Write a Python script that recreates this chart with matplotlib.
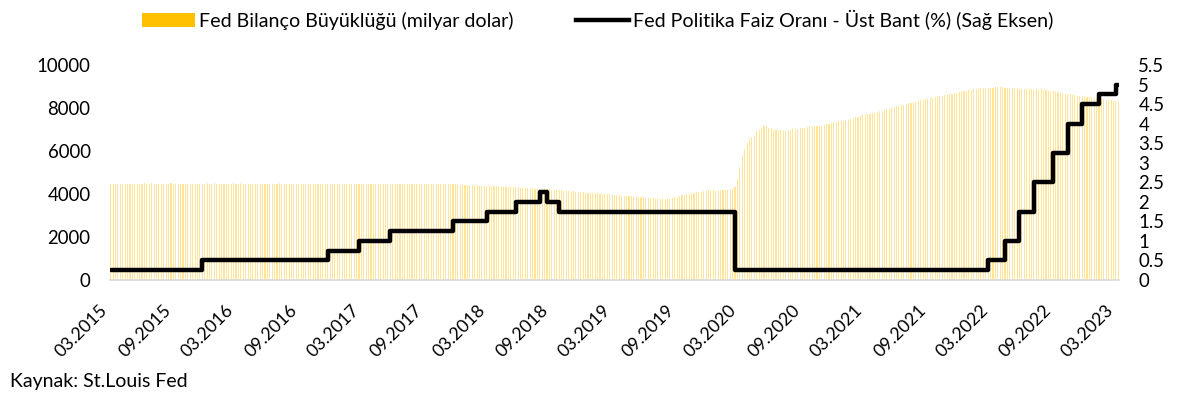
import pandas as pd, numpy as np
import matplotlib
matplotlib.use('Agg')
import matplotlib.pyplot as plt
import matplotlib.patches as mpatches
import matplotlib.lines as mlines

plt.rcParams['font.family'] = ['Lato', 'DejaVu Sans']

# Fed bilanco buyuklugu (milyar dolar), haftalik, 25.03.2015'ten itibaren
bal_2015 = [4478, 4470, 4481, 4474, 4484, 4477, 4472, 4486, 4479, 4483,
            4471, 4488, 4480, 4475, 4492, 4485, 4478, 4489, 4482, 4476,
            4487, 4481, 4474, 4485, 4479, 4490, 4483, 4477, 4486, 4480,
            4473, 4484, 4478, 4488, 4481, 4476, 4487, 4480, 4474, 4486,
            4492]
bal_2016 = [4486, 4479, 4491, 4482, 4476, 4488, 4480, 4473, 4485, 4478,
            4490, 4483, 4477, 4489, 4481, 4474, 4486, 4479, 4471, 4484,
            4478, 4488, 4480, 4475, 4487, 4481, 4472, 4485, 4479, 4490,
            4482, 4476, 4488, 4480, 4473, 4484, 4478, 4487, 4481, 4474,
            4486, 4479, 4471, 4483, 4477, 4488, 4480, 4473, 4485, 4478,
            4469, 4474]
bal_2017 = [4480, 4473, 4485, 4477, 4470, 4482, 4475, 4487, 4479, 4472,
            4484, 4476, 4469, 4481, 4474, 4486, 4478, 4471, 4483, 4475,
            4468, 4480, 4473, 4485, 4477, 4470, 4482, 4474, 4467, 4479,
            4472, 4484, 4476, 4469, 4481, 4473, 4466, 4478, 4470, 4463,
            4475, 4467, 4460, 4471, 4463, 4456, 4467, 4458, 4451, 4462,
            4449, 4448]
bal_2018 = [4440, 4431, 4425, 4418, 4410, 4405, 4402, 4396, 4392, 4389,
            4385, 4381, 4377, 4372, 4367, 4362, 4356, 4348, 4341, 4335,
            4331, 4324, 4318, 4311, 4305, 4298, 4290, 4283, 4277, 4270,
            4262, 4255, 4248, 4242, 4236, 4228, 4219, 4210, 4201, 4193,
            4184, 4176, 4168, 4160, 4151, 4142, 4134, 4125, 4113, 4101,
            4090, 4080]
bal_2019 = [4068, 4058, 4049, 4040, 4032, 4025, 4018, 4010, 4002, 3993,
            3983, 3973, 3962, 3950, 3939, 3928, 3918, 3908, 3898, 3889,
            3880, 3870, 3861, 3851, 3842, 3832, 3821, 3810, 3800, 3789,
            3780, 3772, 3766, 3762, 3765, 3778, 3805, 3840, 3870, 3905,
            3935, 3960, 3985, 4005, 4028, 4050, 4075, 4095, 4115, 4135,
            4150, 4165]
bal_2020 = [4172, 4168, 4160, 4158, 4165, 4170, 4175, 4178, 4181, 4235,
            4310, 4665, 5250, 5810, 6080, 6370, 6570, 6650, 6720, 6930,
            7000, 7040, 7160, 7170, 7090, 7090, 7000, 6970, 6960, 6960,
            6930, 6940, 6960, 6960, 7010, 7030, 7010, 7060, 7080, 7090,
            7130, 7140, 7150, 7160, 7170, 7180, 7210, 7230, 7250, 7270,
            7300, 7330, 7360]
bal_2021 = [7385, 7400, 7410, 7430, 7460, 7490, 7520, 7560, 7590, 7620,
            7660, 7690, 7700, 7720, 7760, 7790, 7820, 7840, 7870, 7900,
            7940, 7960, 8000, 8050, 8070, 8100, 8130, 8160, 8190, 8220,
            8240, 8270, 8300, 8330, 8350, 8380, 8410, 8430, 8450, 8470,
            8490, 8520, 8540, 8560, 8590, 8620, 8650, 8670, 8700, 8720,
            8740, 8760]
bal_2022 = [8790, 8810, 8840, 8860, 8880, 8890, 8900, 8910, 8920, 8930,
            8935, 8940, 8950, 8955, 8960, 8965, 8960, 8940, 8930, 8920,
            8910, 8900, 8910, 8905, 8900, 8890, 8895, 8885, 8875, 8880,
            8870, 8860, 8865, 8850, 8840, 8810, 8790, 8770, 8750, 8730,
            8710, 8690, 8670, 8650, 8630, 8610, 8590, 8575, 8560, 8550,
            8540, 8530]
bal_2023 = [8510, 8490, 8470, 8460, 8440, 8420, 8400, 8390, 8380, 8360,
            8340, 8330, 8320]

balance = bal_2015 + bal_2016 + bal_2017 + bal_2018 + bal_2019 + bal_2020 + bal_2021 + bal_2022 + bal_2023

# Fed politika faizi ust bant (%) - degisim tarihleri
rate_dates = ['2015-03-25', '2015-12-16', '2016-12-14', '2017-03-15', '2017-06-14',
              '2017-12-13', '2018-03-21', '2018-06-13', '2018-08-22', '2018-09-12',
              '2018-10-17', '2020-03-11', '2022-03-16', '2022-05-04', '2022-06-15',
              '2022-07-27', '2022-09-21', '2022-11-02', '2022-12-14', '2023-02-01',
              '2023-03-22', '2023-03-29']
rate_vals = [0.25, 0.5, 0.75, 1.0, 1.25,
             1.5, 1.75, 2.0, 2.25, 2.0,
             1.75, 0.25, 0.5, 1.0, 1.75,
             2.5, 3.25, 4.0, 4.5, 4.75,
             5.0, 5.0]

week_dates = pd.date_range('2015-03-25', periods=len(balance), freq='W-WED')
rate_dates = pd.to_datetime(rate_dates)

tick_dates = [pd.Timestamp('2015-03-25') + pd.DateOffset(months=6 * k) for k in range(17)]
tick_labels = [d.strftime('%m.%Y') for d in tick_dates]

fs = 13.4
fig = plt.figure(figsize=(11.77, 4), dpi=100)
ax = fig.add_axes([110 / 1177, 0.30, (1119 - 110) / 1177, 0.5375])
ax2 = ax.twinx()

ax.bar(week_dates, balance, width=3.2, color='#FFC000', alpha=0.4, linewidth=0)
ax2.plot(rate_dates, rate_vals, drawstyle='steps-post', color='black', lw=3.2,
         solid_joinstyle='round', solid_capstyle='round')

ax.set_xlim(week_dates[0] - pd.Timedelta(days=2), week_dates[-1] + pd.Timedelta(days=2))
ax.set_ylim(0, 10000)
ax2.set_ylim(0, 5.5)
ax.set_yticks(range(0, 10001, 2000))
ax2.set_yticks(np.arange(0, 5.51, 0.5))
ax2.set_yticklabels(['%g' % v for v in np.arange(0, 5.51, 0.5)])
ax.set_xticks(tick_dates)
ax.set_xticklabels(tick_labels, rotation=45, ha='right')

for s in ['top', 'left', 'right']:
    ax.spines[s].set_visible(False)
ax.spines['bottom'].set_color('#d9d9d9')
ax.spines['bottom'].set_linewidth(1.2)
for s in ax2.spines.values():
    s.set_visible(False)

ax.tick_params(axis='both', length=0, labelsize=fs, colors='black')
ax.tick_params(axis='y', pad=14)
ax.tick_params(axis='x', pad=16, labelsize=12.8)
ax2.tick_params(axis='y', length=0, labelsize=fs, pad=14)

h1 = mpatches.Patch(facecolor='#FFC000', edgecolor='none', label='Fed Bilanço Büyüklüğü (milyar dolar)')
h2 = mlines.Line2D([], [], color='black', lw=3.2, label='Fed Politika Faiz Oranı - Üst Bant (%) (Sağ Eksen)')
fig.legend(handles=[h1, h2], loc='upper center', bbox_to_anchor=(0.508, 1.01), ncol=2,
           frameon=False, fontsize=14.1, handlelength=2.7, handletextpad=0.2,
           columnspacing=3.2, borderpad=0.2)

fig.text(10 / 1177, 1 - 382 / 400, 'Kaynak: St.Louis Fed', va='center', ha='left', fontsize=14)

plt.savefig('out.png', dpi=100)
plt.close()
